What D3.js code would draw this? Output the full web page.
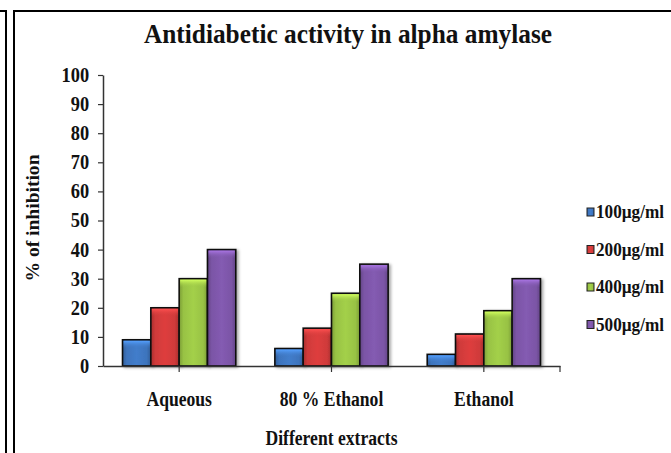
<!DOCTYPE html>
<html><head><meta charset="utf-8">
<script src="https://cdn.jsdelivr.net/npm/d3@7"></script>
<style>html,body{margin:0;padding:0;background:#fff;overflow:hidden}</style>
</head><body>
<svg id="chart" width="671" height="453"></svg>
<script>
const categories = ["Aqueous", "80 % Ethanol", "Ethanol"];
const seriesNames = ["100µg/ml", "200µg/ml", "400µg/ml", "500µg/ml"];
const s100 = [9, 6, 4];
const s200 = [20, 13, 11];
const s400 = [30, 25, 19];
const s500 = [40, 35, 30];
const seriesValues = [s100, s200, s400, s500];
const yTicks = [0,10,20,30,40,50,60,70,80,90,100];
const colors = ["#3d74bd", "#cf3a3a", "#98c244", "#7b55a6"];
const titleText = "Antidiabetic activity in alpha amylase";
const yTitle = "% of inhibition";
const xTitle = "Different extracts";

const svg = d3.select("#chart");
const font = "'Liberation Serif','Times New Roman',serif";
const M = {left:103, right:560, top:75, bottom:366};

// frame lines
svg.append("path").attr("d","M0,11H6V453").attr("fill","none").attr("stroke","#000").attr("stroke-width",2);
svg.append("path").attr("d","M14,453V11H671").attr("fill","none").attr("stroke","#000").attr("stroke-width",2);

const defs = svg.append("defs");
colors.forEach((c,i)=>{
  const g = defs.append("linearGradient").attr("id","g"+i).attr("x1","0").attr("x2","1").attr("y1","0").attr("y2","0");
  const dk = d3.color(c).darker(0.6), lt = d3.color(c).brighter(0.2);
  g.append("stop").attr("offset","0").attr("stop-color",dk);
  g.append("stop").attr("offset","0.15").attr("stop-color",c);
  g.append("stop").attr("offset","0.5").attr("stop-color",lt);
  g.append("stop").attr("offset","0.85").attr("stop-color",c);
  g.append("stop").attr("offset","1").attr("stop-color",dk);
  const t = defs.append("linearGradient").attr("id","t"+i).attr("x1","0").attr("x2","0").attr("y1","0").attr("y2","1");
  t.append("stop").attr("offset","0").attr("stop-color",d3.color(c).brighter(0.9));
  t.append("stop").attr("offset","1").attr("stop-color",c).attr("stop-opacity",0);
});
const sh = defs.append("filter").attr("id","shadow").attr("x","-20%").attr("y","-20%").attr("width","150%").attr("height","150%");
sh.append("feDropShadow").attr("dx",2).attr("dy",1).attr("stdDeviation",1.5).attr("flood-color","#000").attr("flood-opacity",0.35);

const y = d3.scaleLinear().domain([0,100]).range([M.bottom, M.top]);
const x0 = d3.scaleBand().domain(categories).range([M.left, M.right]).paddingInner(0).paddingOuter(0);
const x1 = d3.scaleBand().domain(d3.range(seriesNames.length)).range([0, x0.bandwidth()]).paddingInner(0).paddingOuter(0.69);

// title
svg.append("text").attr("x",348).attr("y",43).attr("text-anchor","middle")
  .attr("font-family",font).attr("font-weight","bold").attr("font-size",27)
  .attr("textLength",408).attr("lengthAdjust","spacingAndGlyphs")
  .attr("fill","#111").text(titleText);

// bars
categories.forEach((cat,ci)=>{
  seriesValues.forEach((vals,si)=>{
    const bx = x0(cat)+x1(si), bw = x1.bandwidth(), by = y(vals[ci]), bh = y(0)-y(vals[ci]);
    const g = svg.append("g");
    g.append("rect").attr("x",bx).attr("y",by).attr("width",bw).attr("height",bh)
      .attr("fill","url(#g"+si+")").attr("stroke","#111").attr("stroke-width",1.6).attr("filter","url(#shadow)");
    g.append("rect").attr("x",bx+1).attr("y",by+1).attr("width",bw-2).attr("height",Math.min(8,bh-2))
      .attr("fill","url(#t"+si+")");
  });
});

// y axis
const yAxis = d3.axisLeft(y).tickValues(yTicks).tickSize(5).tickPadding(8).tickSizeOuter(0);
const ya = svg.append("g").attr("transform",`translate(${M.left},0)`).call(yAxis);
ya.select(".domain").attr("stroke","#333").attr("stroke-width",1.5);
ya.selectAll(".tick line").attr("stroke","#333").attr("stroke-width",1.2);
ya.selectAll(".tick text").attr("font-family",font).attr("font-weight","bold").attr("font-size",20)
  .attr("fill","#111").attr("x",-15).attr("transform","scale(0.92,1)");

// x axis
const xAxis = d3.axisBottom(x0).tickSize(6).tickSizeOuter(0).tickPadding(20);
const xa = svg.append("g").attr("transform",`translate(0,${M.bottom})`).call(xAxis);
xa.select(".domain").attr("stroke","#333").attr("stroke-width",1.5);
xa.selectAll(".tick line").attr("stroke","#333").attr("stroke-width",1.2);
xa.selectAll(".tick text").attr("font-family",font).attr("font-weight","bold").attr("font-size",20)
  .attr("fill","#111").attr("transform","scale(0.88,1)");
xa.append("line").attr("x1",M.right).attr("x2",M.right).attr("y1",0).attr("y2",6).attr("stroke","#333").attr("stroke-width",1.2);

// axis titles
svg.append("text").attr("transform",`translate(39,218) rotate(-90)`).attr("text-anchor","middle")
  .attr("font-family",font).attr("font-weight","bold").attr("font-size",19).attr("fill","#111")
  .attr("textLength",127).attr("lengthAdjust","spacingAndGlyphs").text(yTitle);
svg.append("text").attr("x",(M.left+M.right)/2).attr("y",445).attr("text-anchor","middle")
  .attr("font-family",font).attr("font-weight","bold").attr("font-size",20).attr("fill","#111")
  .attr("textLength",132).attr("lengthAdjust","spacingAndGlyphs").text(xTitle);

// legend
const lg = svg.append("g");
seriesNames.forEach((n,i)=>{
  const cy = 212 + i*37.5;
  lg.append("rect").attr("x",587).attr("y",cy-4).attr("width",7).attr("height",8)
    .attr("fill","url(#g"+i+")").attr("stroke","#222").attr("stroke-width",1);
  lg.append("text").attr("x",596).attr("y",cy+6).attr("font-family",font).attr("font-weight","bold")
    .attr("font-size",18).attr("fill","#111")
    .attr("textLength",68).attr("lengthAdjust","spacingAndGlyphs").text(n);
});
</script>
</body></html>
